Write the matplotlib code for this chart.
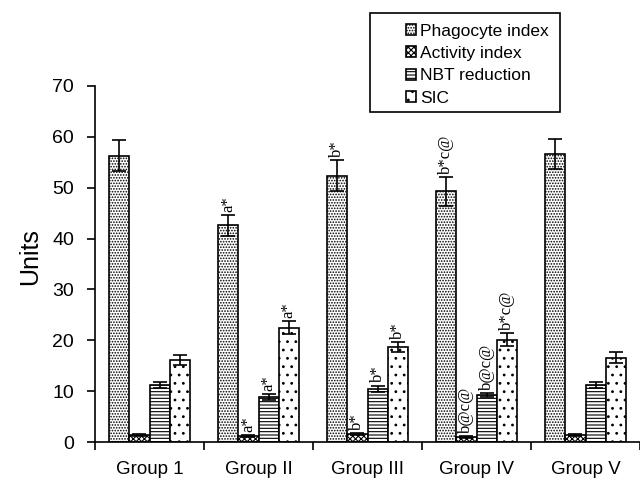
import matplotlib
matplotlib.use("Agg")
import matplotlib.pyplot as plt
import numpy as np
from matplotlib.patches import Rectangle

plt.rcParams['font.family'] = ['Liberation Sans', 'DejaVu Sans']
plt.rcParams['hatch.linewidth'] = 0.8

groups = ["Group 1", "Group II", "Group III", "Group IV", "Group V"]
series = ["Phagocyte index", "Activity index", "NBT reduction", "SIC"]
phagocyte = [56.3, 42.6, 52.4, 49.3, 56.6]
phagocyte_err = [3.0, 2.0, 3.0, 2.8, 3.0]
activity = [1.4, 1.2, 1.5, 1.0, 1.4]
activity_err = [0.2, 0.2, 0.2, 0.2, 0.2]
nbt = [11.2, 8.8, 10.5, 9.2, 11.2]
nbt_err = [0.6, 0.6, 0.6, 0.4, 0.6]
sic = [16.2, 22.5, 18.6, 20.1, 16.6]
sic_err = [1.0, 1.3, 1.0, 1.3, 1.0]
labels = [
    ["", "", "", ""],
    ["a*", "a*", "a*", "a*"],
    ["b*", "b*", "b*", "b*"],
    ["b*c@", "b@c@", "b@c@", "b*c@"],
    ["", "", "", ""],
]

values = [phagocyte, activity, nbt, sic]
errors = [phagocyte_err, activity_err, nbt_err, sic_err]
hatches = ['......', 'xxxxxx', '-----', '..']

fig = plt.figure(figsize=(6.4, 4.9), dpi=100)
ax = fig.add_axes([95/640, 1-442/490, 545/640, (442-86)/490])

x = np.arange(len(groups))
w = 0.185
offsets = [-1.5*w, -0.5*w, 0.5*w, 1.5*w]
handles = []
for i in range(4):
    b = ax.bar(x + offsets[i], values[i], width=w, color='white', edgecolor='black',
               hatch=hatches[i], linewidth=1.2, label=series[i], zorder=2)
    handles.append(b)
    ax.errorbar(x + offsets[i], values[i], yerr=errors[i], fmt='none', ecolor='black',
                elinewidth=1.2, capsize=5, capthick=1.2, zorder=3)
    for g in range(len(groups)):
        t = labels[g][i]
        if t:
            ax.text(x[g] + offsets[i], values[i][g] + errors[i][g] + 0.6, t,
                    rotation=90, ha='center', va='bottom', fontsize=12,
                    family=['Liberation Serif', 'DejaVu Serif'])

ax.set_xlim(-0.5, 4.5)
ax.set_ylim(0, 70)
ax.set_yticks(range(0, 71, 10))
ax.set_xticks(x)
ax.set_xticklabels(groups, fontsize=13.5)
ax.set_xticks(np.arange(-0.5, 4.6, 1.0), minor=True)
ax.tick_params(axis='x', which='major', length=0, pad=14)
ax.tick_params(axis='x', which='minor', length=6, width=1.2, direction='out')
ax.tick_params(axis='y', length=6, width=1.2, direction='out', labelsize=14, pad=9)
ax.spines['top'].set_visible(False)
ax.spines['right'].set_visible(False)
ax.spines['left'].set_linewidth(1.2)
ax.spines['bottom'].set_linewidth(1.2)
ax.set_ylabel("Units", fontsize=18)
ax.yaxis.set_label_coords(-0.097, 0.52)

leg = fig.legend(handles=handles, labels=series, loc='upper left',
                 bbox_to_anchor=(397/640, 1-15/490), frameon=False,
                 fontsize=12.5, handlelength=0.6, handleheight=0.6,
                 handletextpad=0.25, labelspacing=0.42, borderpad=0.0)
fig.patches.append(Rectangle((370/640, 1-112/490), 190/640, 99/490,
                             transform=fig.transFigure, fill=False,
                             edgecolor='black', linewidth=1.2))

fig.savefig("out.png", dpi=100)
